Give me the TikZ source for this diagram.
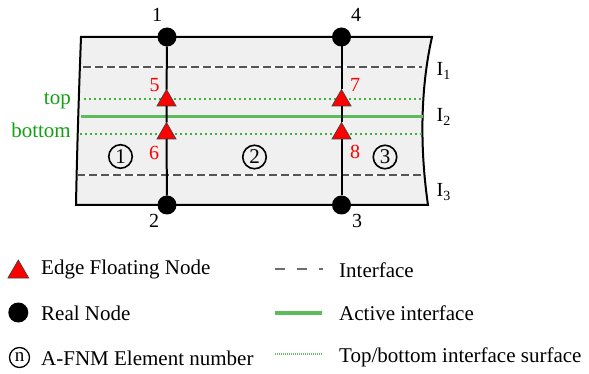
\documentclass[tikz,border=0pt]{standalone}
\usepackage{fontspec}
\setmainfont{Liberation Serif}
\usetikzlibrary{shapes.geometric}
\definecolor{bgfill}{HTML}{F0F0F0}
\definecolor{lbgreen}{HTML}{14A014}
\definecolor{actgreen}{HTML}{5CBC5C}
\definecolor{dotgreen}{HTML}{3CB43C}
\definecolor{ifgray}{HTML}{555555}
\definecolor{fnred}{HTML}{FF0000}
\begin{document}
\begin{tikzpicture}[x=1pt,y=-1pt,
  realnode/.style={circle,fill=black,inner sep=0pt,outer sep=0pt,minimum size=19pt},
  efn/.style={regular polygon,regular polygon sides=3,fill=fnred,draw=black!75,line width=0.7pt,inner sep=0pt,outer sep=0pt,minimum size=22pt},
  elnum/.style={circle,draw=black,line width=1.6pt,inner sep=0pt,minimum size=23.5pt,font=\fontsize{21}{21}\selectfont},
  lbl/.style={inner sep=0pt,font=\fontsize{20}{24}\selectfont},
  redlbl/.style={lbl,text=fnred},
  leglbl/.style={inner sep=0pt,font=\fontsize{21}{25}\selectfont,anchor=base west},
  greenlbl/.style={inner sep=0pt,font=\fontsize{21}{25}\selectfont,text=lbgreen,anchor=base east},
  edge/.style={line width=2pt,black},
  ifline/.style={line width=1.5pt,ifgray,dash pattern=on 8pt off 4pt},
  ifback/.style={line width=1.5pt,white},
  actline/.style={line width=3pt,actgreen},
  surfline/.style={line width=2pt,dotgreen,dash pattern=on 2pt off 3pt},
]
\useasboundingbox (0,0) rectangle (589,374);

% body
\draw[edge,fill=bgfill] (81,37) -- (432,37)
  .. controls (420,90) and (420,150) .. (428,205)
  -- (76,205) .. controls (77,150) and (79,90) .. (81,37) -- cycle;

% interfaces
\draw[ifback] (83,67) -- (422,67);
\draw[ifline] (83,67) -- (422,67);
\draw[ifback] (77,175) -- (422,175);
\draw[ifline] (77,175) -- (422,175);
\draw[surfline] (84,99.5) -- (422,99.5);
\draw[surfline] (80,134) -- (422,134);
\draw[actline] (81,117) -- (423,117);

% real nodes
\node[realnode] (r1) at (167,37) {};
\node[realnode] (r4) at (341.5,37) {};
\node[realnode] (r2) at (167,205) {};
\node[realnode] (r3) at (341.5,205) {};

% edge floating nodes
\node[efn] (f5) at (166.5,100.5) {};
\node[efn] (f6) at (166.5,133.5) {};
\node[efn] (f7) at (341.5,100.5) {};
\node[efn] (f8) at (341.5,133.5) {};

% element edges
\draw[edge] (r1) -- (f5) -- (f6) -- (r2);
\draw[edge] (r4) -- (f7) -- (f8) -- (r3);
\draw[edge] (r1) -- (r4);
\draw[edge] (r2) -- (r3);

% labels
\node[lbl,anchor=base] (l1) at (157,22) {1};
\node[lbl,anchor=base] (l4) at (356,22) {4};
\node[lbl,anchor=base] (l2) at (154,228) {2};
\node[lbl,anchor=base] (l3) at (357,228) {3};
\node[redlbl] (l5) at (154.5,85) {5};
\node[redlbl] (l6) at (154,152.5) {6};
\node[redlbl] (l7) at (355,85) {7};
\node[redlbl] (l8) at (355,151.5) {8};

\node[elnum] (e1) at (120.5,156.5) {1};
\node[elnum] (e2) at (254.5,157) {2};
\node[elnum] (e3) at (385,157) {3};

\node[lbl,anchor=base west] (i1) at (436.5,76) {I\textsubscript{1}};
\node[lbl,anchor=base west] (i2) at (436.5,122) {I\textsubscript{2}};
\node[lbl,anchor=base west] (i3) at (436.5,197) {I\textsubscript{3}};

\node[greenlbl] (top) at (71,105) {top};
\node[greenlbl] (bot) at (71,138) {bottom};

% legend
\node[efn,minimum size=24pt] (lg1) at (18.3,272) {};
\node[leglbl] (lt1) at (41,274) {Edge Floating Node};
\node[realnode,minimum size=20pt] (lg2) at (18.3,312.5) {};
\node[leglbl] (lt2) at (41,320) {Real Node};
\node[circle,draw=black,line width=1.3pt,inner sep=0pt,minimum size=20pt,font=\fontsize{19}{19}\selectfont] (lg3) at (19.5,357.5) {n};
\node[leglbl] (lt3) at (41,365) {A-FNM Element number};

\coordinate (d1) at (275,269);
\coordinate (d2) at (323,269);
\draw[line width=1.5pt,ifgray!85,dash pattern=on 10pt off 12pt] (d1) -- (d2);
\node[leglbl] (lt4) at (339,277) {Interface};
\coordinate (a1) at (275,313);
\coordinate (a2) at (322,313);
\draw[line width=3.5pt,actgreen] (a1) -- (a2);
\node[leglbl] (lt5) at (339,320) {Active interface};
\coordinate (s1) at (275,354);
\coordinate (s2) at (322,354);
\draw[line width=2pt,dotgreen!80,dash pattern=on 1pt off 1pt] (s1) -- (s2);
\node[leglbl] (lt6) at (339,362) {Top/bottom interface surface};
\end{tikzpicture}
\end{document}
